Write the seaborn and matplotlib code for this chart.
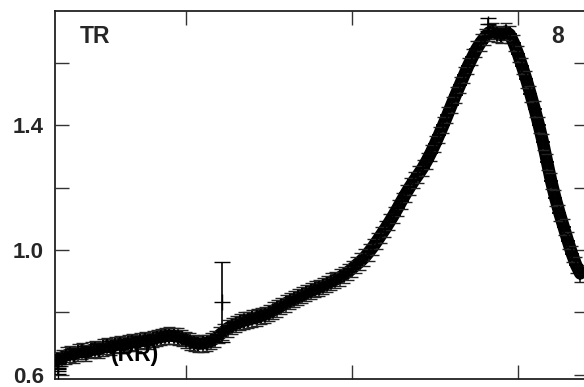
import numpy as np
import pandas as pd
import matplotlib
matplotlib.use("Agg")
import matplotlib.pyplot as plt
import seaborn as sns

# ---- data ----
x_start, x_step = 0.225, 0.025
ratio = [
    0.648, 0.655, 0.662, 0.668, 0.665, 0.672, 0.676, 0.671, 0.679, 0.684,
    0.681, 0.688, 0.692, 0.689, 0.696, 0.699, 0.695, 0.702, 0.706, 0.703,
    0.708, 0.711, 0.709, 0.715, 0.719, 0.722, 0.724, 0.726, 0.725, 0.723,
    0.719, 0.713, 0.707, 0.703, 0.700, 0.701, 0.703, 0.708, 0.716, 0.727,
    0.738, 0.749, 0.757, 0.764, 0.769, 0.774, 0.777, 0.781, 0.784, 0.789,
    0.793, 0.799, 0.806, 0.813, 0.821, 0.829, 0.836, 0.842, 0.849, 0.855,
    0.862, 0.868, 0.874, 0.879, 0.885, 0.892, 0.899, 0.905, 0.912, 0.920,
    0.929, 0.940, 0.952, 0.963, 0.976, 0.992, 1.009, 1.028, 1.048, 1.068,
    1.089, 1.111, 1.134, 1.158, 1.181, 1.203, 1.223, 1.242, 1.262, 1.285,
    1.311, 1.339, 1.369, 1.400, 1.432, 1.465, 1.497, 1.528, 1.559, 1.590,
    1.617, 1.643, 1.664, 1.681, 1.696, 1.702, 1.692, 1.688, 1.699, 1.690,
    1.662, 1.628, 1.588, 1.546, 1.500, 1.452, 1.401, 1.345, 1.282, 1.220,
    1.166, 1.118, 1.074, 1.030, 0.988, 0.952, 0.925,
]
ratio_err = 0.026
x_main = np.round(x_start + x_step * np.arange(len(ratio)), 4)

# isolated points with their own error bars
extra_x = [0.229, 0.229, 0.229, 1.217, 2.819]
extra_y = [0.612, 0.628, 0.646, 0.834, 1.722]
extra_err = [0.010, 0.010, 0.010, 0.128, 0.020]

y_ticks = [0.6, 0.8, 1.0, 1.2, 1.4, 1.6]
y_labels = ["0.6", "", "1.0", "", "1.4", ""]
x_ticks = [1, 2, 3]

df = pd.DataFrame({"x": x_main, "ratio": ratio})
df_extra = pd.DataFrame({"x": extra_x, "ratio": extra_y})

# ---- style ----
sns.set_style("white")
plt.rcParams["font.family"] = ["Liberation Sans", "DejaVu Sans"]
plt.rcParams["font.weight"] = "bold"

W, H = 584, 387
fig = plt.figure(figsize=(W / 100, H / 100), dpi=100)
ax = fig.add_axes([55 / W, (H - 379) / H, (588 - 55) / W, (379 - 11) / H])

# label partially covered by the data
fig.text(111 / W, 1 - 361 / H, "(RR)", fontsize=16.5, fontweight="bold",
         color="black", zorder=0)

# thick connecting band
sns.lineplot(data=df, x="x", y="ratio", ax=ax, color="black", lw=9,
             sort=False, zorder=3, legend=False)
# error bars
ax.errorbar(df["x"], df["ratio"], yerr=ratio_err, fmt="none", ecolor="#222222",
            elinewidth=1.2, capsize=4, capthick=1.0, zorder=4)
ax.errorbar(df_extra["x"], df_extra["ratio"], yerr=extra_err, fmt="none",
            ecolor="black", elinewidth=1.2, capsize=6, capthick=1.0, zorder=4)
# plus markers
sns.scatterplot(data=df, x="x", y="ratio", ax=ax, marker="+", s=110,
                color="black", linewidth=1.3, zorder=5, legend=False)
sns.scatterplot(data=df_extra, x="x", y="ratio", ax=ax, marker="+", s=140,
                color="black", linewidth=1.0, zorder=5, legend=False)

ax.set_xlim(0.2108, 3.4217)
ax.set_ylim(0.587, 1.765)
ax.set_xticks(x_ticks)
ax.set_xticklabels([])
ax.set_yticks(y_ticks)
ax.set_yticklabels(y_labels)
ax.set_xlabel("")
ax.set_ylabel("")
ax.tick_params(axis="both", which="major", direction="in", length=10,
               width=1.0, color="#333333", top=True, right=True,
               bottom=True, left=True)
ax.tick_params(axis="y", labelsize=16, pad=8)
for lab in ax.get_yticklabels():
    lab.set_fontweight("bold")
for side, sp in ax.spines.items():
    sp.set_visible(True)
    sp.set_color("#222222")
    sp.set_linewidth(1.3)

fig.text(80 / W, 1 - 43 / H, "TR", fontsize=16.5, fontweight="bold")
fig.text(551 / W, 1 - 43 / H, "8", fontsize=16.5, fontweight="bold")

fig.savefig("out.png", dpi=100)
